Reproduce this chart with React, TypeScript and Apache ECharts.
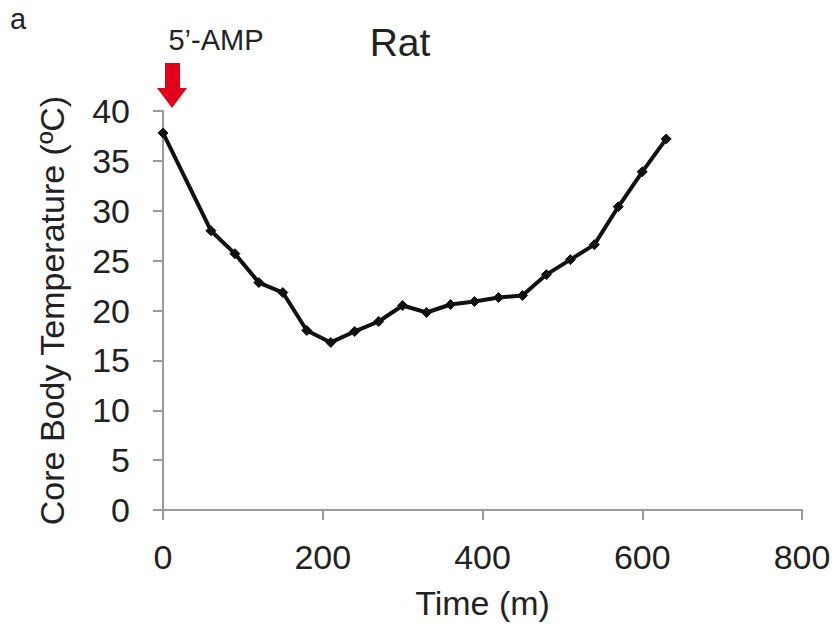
import React, { useEffect, useRef } from "react";
import * as echarts from "echarts";

const times = [0, 60, 90, 120, 150, 180, 210, 240, 270, 300, 330, 360, 390, 420, 450, 480, 510, 540, 570, 600, 630];
const temps = [37.8, 28.0, 25.7, 22.8, 21.8, 18.0, 16.8, 17.9, 18.9, 20.5, 19.8, 20.6, 20.9, 21.3, 21.5, 23.6, 25.1, 26.6, 30.4, 33.9, 37.2];

const xMin = 0;
const xMax = 800;
const xStep = 200;
const yMin = 0;
const yMax = 40;
const yStep = 5;

const FONT = "'Liberation Sans', Arial, sans-serif";
const TEXT = "#222";
const AXIS = "#9a9a9a";

export default function App() {
  const ref = useRef<HTMLDivElement>(null);
  useEffect(() => {
    if (!ref.current) return;
    const chart = echarts.init(ref.current, undefined, { renderer: "svg" });
    chart.setOption({
      animation: false,
      backgroundColor: "#fff",
      textStyle: { fontFamily: FONT },
      grid: { left: 163, right: 35, top: 111, bottom: 120, containLabel: false },
      xAxis: {
        type: "value",
        min: xMin,
        max: xMax,
        interval: xStep,
        name: "Time (m)",
        nameLocation: "middle",
        nameGap: 76,
        nameTextStyle: { fontSize: 34, color: TEXT, fontFamily: FONT },
        axisLine: { show: true, lineStyle: { color: AXIS, width: 2 } },
        axisTick: { show: true, length: 10, inside: false, lineStyle: { color: AXIS, width: 2 } },
        axisLabel: { fontSize: 34, color: TEXT, margin: 30, fontFamily: FONT },
        splitLine: { show: false },
      },
      yAxis: {
        type: "value",
        min: yMin,
        max: yMax,
        interval: yStep,
        name: "Core Body Temperature (ºC)",
        nameLocation: "middle",
        nameRotate: 90,
        nameGap: 94,
        nameTextStyle: { fontSize: 34, color: TEXT, fontFamily: FONT },
        axisLine: { show: true, lineStyle: { color: AXIS, width: 2 } },
        axisTick: { show: true, length: 10, inside: false, lineStyle: { color: AXIS, width: 2 } },
        axisLabel: { fontSize: 34, color: TEXT, margin: 33, fontFamily: FONT },
        splitLine: { show: false },
      },
      series: [
        {
          type: "line",
          data: times.map((t, i) => [t, temps[i]]),
          symbol: "diamond",
          symbolSize: 10,
          showSymbol: true,
          lineStyle: { color: "#111", width: 4 },
          itemStyle: { color: "#111", borderColor: "#111" },
          z: 3,
        },
      ],
      graphic: [
        {
          type: "text",
          left: 10,
          top: 4,
          style: { text: "a", fontSize: 29, fill: TEXT, fontFamily: FONT },
        },
        {
          type: "text",
          x: 216,
          y: 40,
          style: {
            text: "5’-AMP",
            fontSize: 29,
            fill: TEXT,
            fontFamily: FONT,
            align: "center",
            verticalAlign: "middle",
          },
        },
        {
          type: "text",
          x: 400,
          y: 42,
          style: {
            text: "Rat",
            fontSize: 39,
            fill: TEXT,
            fontFamily: FONT,
            align: "center",
            verticalAlign: "middle",
          },
        },
        {
          type: "polygon",
          shape: {
            points: [
              [165, 63],
              [180, 63],
              [180, 88],
              [187, 88],
              [172, 108],
              [157, 88],
              [165, 88],
            ],
          },
          style: { fill: "#e2001a" },
          z: 10,
        },
      ],
    });
    return () => chart.dispose();
  }, []);
  return (
    <div
      ref={ref}
      style={{ position: "absolute", left: 0, top: 0, width: 837, height: 630 }}
    />
  );
}
